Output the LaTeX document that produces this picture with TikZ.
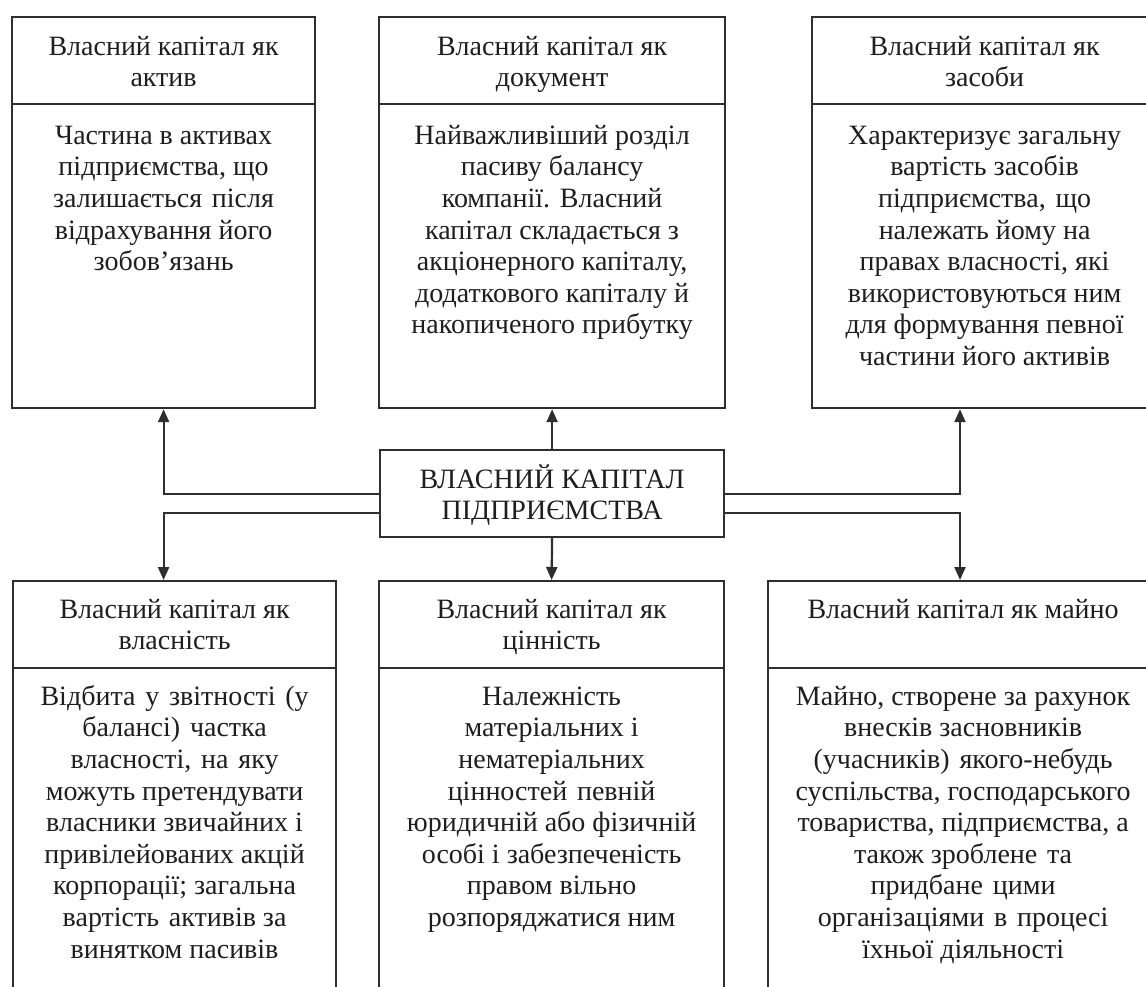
\documentclass[tikz,border=0pt]{standalone}
\usepackage{fontspec}
\setmainfont{Liberation Serif}
\usetikzlibrary{arrows.meta}
\definecolor{linec}{HTML}{2E2E2E}
\definecolor{textc}{HTML}{1E1E1E}
\newcommand\cellbox[4][6.5pt]{\parbox[c][#3][t]{#2}{\centering\vspace*{#1}\strut #4\strut}}
\newcommand\ws{\hspace{0.35em}}
\tikzset{
  cell/.style={draw=linec, line width=1.1pt, inner sep=0pt, anchor=north west, text=textc, fill=white},
  arr/.style={draw=linec, line width=1.1pt, -{Triangle[length=6.5pt,width=5.5pt]}}
}
\begin{document}
\begin{tikzpicture}[x=0.5pt,y=-0.5pt]
\fontsize{14}{15.8}\selectfont
\useasboundingbox (0,0) rectangle (1146,986);
\clip (0,0) rectangle (1146,986);
\fill[white] (0,0) rectangle (1146,986);
% top row
\node[cell] (tlh) at (11,16) {\cellbox[8pt]{151.5pt}{43.5pt}{Власний капітал як\\актив}};
\node[cell] (tlb) at (11,103) {\cellbox[9pt]{151.5pt}{152pt}{Частина в активах\\підприємства, що\\залишається\ws після\\відрахування його\\зобов’язань}};
\node[cell] (tmh) at (378,16) {\cellbox[8pt]{173pt}{43.5pt}{Власний капітал як\\документ}};
\node[cell] (tmb) at (378,103) {\cellbox[9pt]{173pt}{152pt}{Найважливіший розділ\\пасиву балансу\\компанії.\ws Власний\\капітал складається з\\акціонерного капіталу,\\додаткового капіталу й\\накопиченого прибутку}};
\node[cell] (trh) at (811,16) {\cellbox[8pt]{172.5pt}{43.5pt}{Власний капітал як\\засоби}};
\node[cell] (trb) at (811,103) {\cellbox[9pt]{172.5pt}{152pt}{Характеризує загальну\\вартість засобів\\підприємства,\ws що\\належать йому на\\правах власності, які\\використовуються ним\\для формування певної\\частини його активів}};
% centre
\node[cell] (ctr) at (379,449) {\parbox[c][43.5pt][c]{172pt}{\centering\vspace*{1.5pt}ВЛАСНИЙ КАПІТАЛ\\ПІДПРИЄМСТВА}};
% bottom row
\node[cell] (blh) at (12,580) {\cellbox[7.5pt]{161.5pt}{43.5pt}{Власний капітал як\\власність}};
\node[cell] (blb) at (12,667) {\cellbox[7.5pt]{161.5pt}{170pt}{Відбита\ws у\ws звітності\ws (у\\балансі)\ws частка\\власності,\ws на\ws яку\\можуть претендувати\\власники звичайних і\\привілейованих акцій\\корпорації; загальна\\вартість\ws активів за\\винятком пасивів}};
\node[cell] (bmh) at (378,580) {\cellbox[7.5pt]{172.5pt}{43.5pt}{Власний капітал як\\цінність}};
\node[cell] (bmb) at (378,667) {\cellbox[7.5pt]{172.5pt}{170pt}{Належність\\матеріальних і\\нематеріальних\\цінностей\ws певній\\юридичній або фізичній\\особі і забезпеченість\\правом вільно\\розпоряджатися ним}};
\node[cell] (brh) at (767,580) {\cellbox[7.5pt]{195pt}{43.5pt}{Власний капітал як майно}};
\node[cell] (brb) at (767,667) {\cellbox[7.5pt]{195pt}{170pt}{Майно, створене за рахунок\\внесків засновників\\(учасників)\ws якого-небудь\\суспільства, господарського\\товариства, підприємства, а\\також зроблене\ws та\\придбане\ws цими\\організаціями\ws в\ws процесі\\їхньої діяльності}};
% connectors
\coordinate (rx) at (960,0);
\draw[arr] (ctr.west) -| (tlb.south);
\draw[arr] ([yshift=-9.5pt]ctr.west) -| (blh.north -| tlb.south);
\draw[arr] (ctr.east) -| (trb.south -| rx);
\draw[arr] ([yshift=-9.5pt]ctr.east) -| (brh.north -| rx);
\draw[arr] (ctr.north) -- (tmb.south);
\draw[arr] (ctr.south) -- (bmh.north);
\end{tikzpicture}
\end{document}
